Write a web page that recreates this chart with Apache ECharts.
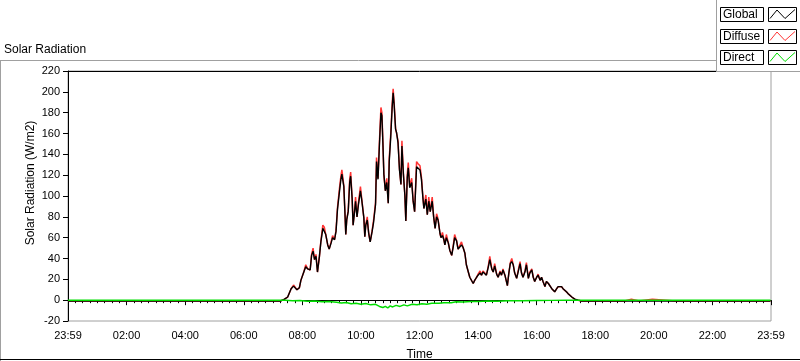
<!DOCTYPE html>
<html>
<head>
<meta charset="utf-8">
<script src="https://cdn.jsdelivr.net/npm/echarts@6/dist/echarts.min.js"></script>
<style>
html, body { margin: 0; padding: 0; background: #fff; }
#chart { width: 800px; height: 361px; }
</style>
</head>
<body>
<div id="chart"></div>
<script>
// shared sample times for Global and Diffuse
var times = ['00:00','07:15','07:22','07:26','07:30','07:37','07:42','07:49','07:54','07:57',
	'08:03','08:07','08:11','08:16','08:19','08:22','08:25','08:28','08:31','08:35','08:38','08:42','08:45','08:48','08:52','08:55','08:59',
	'09:02','09:06','09:09','09:12','09:16','09:19','09:21','09:25','09:27','09:29','09:31','09:34','09:37','09:39','09:42','09:44','09:47','09:49','09:52','09:55','09:59',
	'10:02','10:06','10:08','10:10','10:13','10:16','10:19','10:23','10:26','10:30','10:32','10:35','10:38','10:41','10:43','10:45','10:47','10:50','10:53','10:56','10:58',
	'11:01','11:04','11:06','11:08','11:11','11:13','11:16','11:19','11:22','11:24','11:27','11:30','11:32','11:35','11:37','11:40','11:44','11:47','11:50','11:54','11:57',
	'12:01','12:04','12:07','12:09','12:13','12:16','12:19','12:22','12:26','12:29','12:32','12:35','12:38','12:42','12:44','12:47','12:50','12:52','12:55','12:59',
	'13:02','13:06','13:09','13:12','13:16','13:19','13:23','13:26','13:29','13:33','13:36','13:40','13:43','13:47','13:50','13:53','13:57',
	'14:00','14:04','14:07','14:10','14:14','14:17','14:21','14:24','14:28','14:31','14:34','14:38','14:41','14:45','14:48','14:51','14:55','14:58',
	'15:00','15:03','15:06','15:09','15:12','15:15','15:19','15:22','15:26','15:29','15:32','15:36','15:39','15:43','15:46','15:50','15:53','15:56',
	'16:00','16:03','16:07','16:10','16:13','16:17','16:20','16:24','16:27','16:31','16:34','16:37','16:41','16:44','16:48','16:51','16:54','16:58',
	'17:01','17:05','17:08','17:12','17:15','17:18','17:25','17:32',
	'19:00','19:01','19:14','19:15','19:30','19:31','19:57','19:58','20:44','20:45','20:46','23:59'];

var globalVals = [-0.8,-0.8,0.5,1,3,11,13.5,10,12,19,
	27,32,30,29,43,47,39,42,27,42,56,69,68,63,53,49,55,
	60,58,66,87,104,116,121,109,87,63,77,85,113,119,98,72,85,95,80,92,105,
	95,79,61,72,77,64,56,66,75,92,133,116,150,180,177,151,121,105,113,93,133,
	156,185,199,188,164,161,151,125,111,148,121,101,76,118,127,108,113,95,85,128,127,
	125,116,98,88,97,82,95,85,95,80,69,80,77,64,60,62,58,53,60,55,
	48,43,51,60,57,49,48,53,51,45,34,27,22,21,16,19,22,
	24,26,24,27,26,24,32,39,30,27,33,25,22,27,24,29,24,18,
	14,26,35,37,34,26,21,27,35,26,22,27,34,21,26,29,22,18,
	22,24,19,22,18,13,18,16,16,11,10,8,11,13,12,13,11,10,
	8,6,5,3,2,1,0,-0.8,
	-0.8,-0.8,-0.8,-0.8,-0.8,-0.8,-0.8,-0.8,-0.8,0.5,-0.8,-0.8];

var diffuseVals = [-0.8,-0.8,0.5,1,3,11,14.5,10,12,19,
	27,34,30,29,44,50,39,44,27,42,57,72,70,63,53,49,56,
	62,58,67,89,107,119,125,110,87,63,78,86,116,123,98,72,86,99,80,94,109,
	96,79,61,73,80,64,56,67,77,94,137,117,153,185,180,152,121,105,117,93,136,
	159,188,203,190,165,166,153,126,111,153,122,101,76,121,132,109,117,95,85,133,131,
	129,118,99,88,101,82,99,85,99,80,69,83,78,64,60,65,58,53,63,55,
	48,43,52,63,57,49,48,56,51,45,34,27,22,21,16,19,22,
	25,28,24,28,26,24,33,42,30,27,35,25,22,28,24,30,24,18,
	14,26,36,40,34,26,21,28,37,26,22,28,36,21,27,30,22,18,
	22,25,19,22,18,13,18,16,16,11,10,8,11,13,12,13,11,10,
	8,6,5,3,2,1,0,-0.8,
	-0.8,1,1,-0.8,-0.8,1,1,-0.8,-0.8,0.5,-0.8,-0.8];

var directTimes = ['00:00','07:25','07:40','07:55','08:10','08:25','08:40','08:55','09:10','09:20','09:30','09:40','09:50',
	'10:00','10:10','10:20','10:30','10:38','10:45','10:50','10:55','11:00','11:05','11:12','11:20','11:28','11:35','11:45','11:55',
	'12:05','12:15','12:25','12:40','12:50','13:05','13:15','13:30','13:45','14:00','14:20','14:40','15:00','15:30','16:00','16:30','17:00','23:59'];
var directVals = [0,0,-0.5,-0.3,-1,-0.8,-1.5,-1.2,-2,-2.8,-2.2,-3.5,-3,
	-4,-3.2,-4.5,-4,-6,-7,-6,-7.5,-5.5,-6.5,-5,-6,-4.5,-5.5,-4,-4.5,
	-3.5,-4,-3,-3,-2.5,-2.5,-1.5,-1.8,-1.2,-1.3,-0.8,-1,-0.6,-0.5,-0.3,-0.2,0,0];

var yTicks = { min: -20, max: 220, step: 20 };
var legendNames = ['Global', 'Diffuse', 'Direct'];
var colors = ['#000000', '#ff3333', '#00dd00'];
var font = 'Liberation Sans';

var toMin = function(s){
	var p = s.split(':');
	return Number(p[0]) * 60 + Number(p[1]);
};
var pairs = function(t, v){
	var out = [];
	for(var i = 0; i < t.length; i++){
		out.push([toMin(t[i]), v[i]]);
	}
	return out;
};

var myChart = echarts.init(document.getElementById('chart'));

// legend drawn as LabVIEW style boxes
var legendGraphics = [
	{type: 'rect', shape: {x: 717, y: 0, width: 83, height: 71}, style: {fill: '#fff'}, z: 100},
	{type: 'line', shape: {x1: 716.5, y1: 0, x2: 716.5, y2: 72}, style: {stroke: '#a0a0a0', lineWidth: 1}, z: 101},
	{type: 'line', shape: {x1: 716, y1: 71.5, x2: 800, y2: 71.5}, style: {stroke: '#a0a0a0', lineWidth: 1}, z: 101}
];
var rowTop = [7.5, 29.5, 50.5];
for(var i = 0; i < 3; i++){
	var y0 = rowTop[i];
	legendGraphics.push({type: 'rect', shape: {x: 720.5, y: y0, width: 43, height: 14}, style: {fill: '#fff', stroke: '#000', lineWidth: 1}, z: 101});
	legendGraphics.push({type: 'text', x: 723, y: y0 + 7.5, style: {text: legendNames[i], fill: '#000', font: '12px ' + font, textVerticalAlign: 'middle'}, z: 102});
	legendGraphics.push({type: 'rect', shape: {x: 768.5, y: y0, width: 28, height: 14}, style: {fill: '#fff', stroke: '#000', lineWidth: 1}, z: 101});
	legendGraphics.push({type: 'polyline', shape: {points: [[770, y0 + 11], [777, y0 + 2.5], [785, y0 + 11], [795, y0 + 2]]}, style: {stroke: colors[i], lineWidth: 1, fill: null}, z: 102});
}

var frameGraphics = [
	{type: 'line', shape: {x1: 0, y1: 60.5, x2: 717, y2: 60.5}, style: {stroke: '#a0a0a0', lineWidth: 1}, z: 50},
	{type: 'line', shape: {x1: 0.5, y1: 60, x2: 0.5, y2: 361}, style: {stroke: '#a0a0a0', lineWidth: 1}, z: 50},
	{type: 'line', shape: {x1: 0, y1: 359.5, x2: 800, y2: 359.5}, style: {stroke: '#000', lineWidth: 1}, z: 50},
	{type: 'text', x: 31, y: 183, rotation: Math.PI / 2,
		style: {text: 'Solar Radiation (W/m2)', fill: '#000', font: '12px ' + font, textAlign: 'center', textVerticalAlign: 'middle'}, z: 50}
];

var option = {
	animation: false,
	backgroundColor: '#fff',
	title: {
		text: 'Solar Radiation',
		left: 4, top: 44, padding: 0,
		textStyle: {fontFamily: font, fontSize: 12, fontWeight: 'normal', color: '#000'}
	},
	grid: {left: 68, right: 29, top: 71, bottom: 40, outerBoundsMode: 'none', show: true, borderColor: '#a0a0a0', borderWidth: 1, backgroundColor: '#fff'},
	xAxis: [{
		type: 'value', min: 0, max: 1440, interval: 120,
		name: 'Time', nameLocation: 'middle', nameGap: 28,
		nameTextStyle: {fontFamily: font, fontSize: 12, color: '#000'},
		axisLine: {show: true, lineStyle: {color: '#000', width: 1}},
		axisTick: {show: true, length: 5, lineStyle: {color: '#000'}},
		minorTick: {show: true, splitNumber: 8, length: 3, lineStyle: {color: '#000'}},
		axisLabel: {
			color: '#000', fontFamily: font, fontSize: 11, margin: 9,
			showMinLabel: true, showMaxLabel: true,
			formatter: function(v){
				if(v === 0 || v === 1440) return '23:59';
				var h = v / 60;
				return (h < 10 ? '0' : '') + h + ':00';
			}
		},
		splitLine: {show: false}
	}, {
		type: 'value', position: 'top', min: 0, max: 1440,
		axisLine: {show: true, lineStyle: {color: '#000', width: 1}},
		axisTick: {show: false}, axisLabel: {show: false}, splitLine: {show: false}
	}],
	yAxis: {
		type: 'value', min: yTicks.min, max: yTicks.max, interval: yTicks.step,
		axisLine: {show: true, lineStyle: {color: '#000', width: 1}},
		axisTick: {show: true, length: 5, lineStyle: {color: '#000'}},
		axisLabel: {color: '#000', fontFamily: font, fontSize: 11, margin: 8},
		splitLine: {show: false}
	},
	graphic: frameGraphics.concat(legendGraphics),
	series: [{
		name: 'Diffuse', type: 'line', data: pairs(times, diffuseVals),
		showSymbol: false, symbol: 'none', lineStyle: {color: colors[1], width: 1.5}, z: 2
	}, {
		name: 'Global', type: 'line', data: pairs(times, globalVals),
		showSymbol: false, symbol: 'none', lineStyle: {color: colors[0], width: 1.4}, z: 3
	}, {
		name: 'Direct', type: 'line', data: pairs(directTimes, directVals),
		showSymbol: false, symbol: 'none', lineStyle: {color: colors[2], width: 1.5}, z: 4
	}]
};
myChart.setOption(option);
</script>
</body>
</html>
